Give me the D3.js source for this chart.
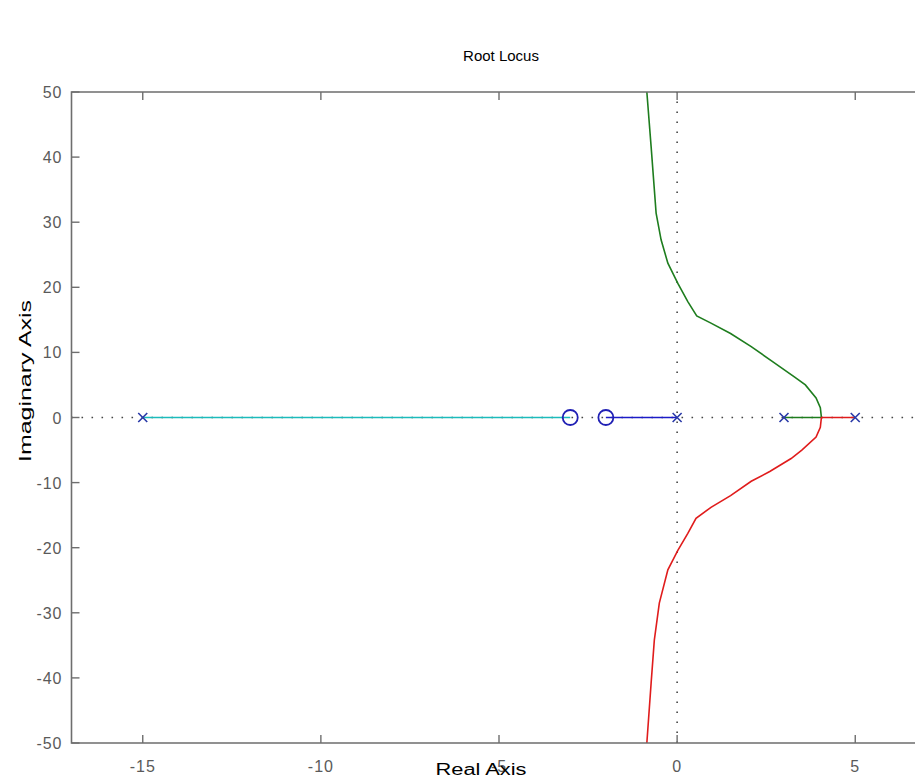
<!DOCTYPE html>
<html>
<head>
<meta charset="utf-8">
<script src="https://cdn.jsdelivr.net/npm/d3@7"></script>
<style>
  body { margin: 0; background: #fff; }
  #chart { width: 915px; height: 778px; overflow: hidden; }
  text { font-family: Arial, "Liberation Sans", sans-serif; }
</style>
</head>
<body>
<div id="chart"></div>
<script>
/*
*    root locus
*/

// ticks
const xTicks = [-15, -10, -5, 0, 5];
const yTicks = [-50, -40, -30, -20, -10, 0, 10, 20, 30, 40, 50];

// poles (x) y zeros (o)
const poleRe = [-15, 0, 3, 5];
const zeroRe = [-3, -2];

// branches
const cyanRe = [-15, -3];
const cyanIm = [0, 0];

const blueRe = [0, -2];
const blueIm = [0, 0];

const greenRe = [3, 4.05, 4.02, 3.9, 3.6, 3.3, 2.7, 2.08, 1.5, 0.95, 0.55, 0.3, 0.02, -0.26, -0.45, -0.59, -0.73, -0.85];
const greenIm = [0, 0, 1.5, 3, 5, 6.2, 8.5, 10.9, 12.9, 14.5, 15.6, 17.8, 20.6, 23.7, 27.3, 31.4, 41.6, 50];

const redRe = [5, 4.05, 4.02, 3.9, 3.5, 3.2, 2.6, 2.08, 1.5, 0.95, 0.53, 0.3, 0.02, -0.26, -0.5, -0.64, -0.73, -0.85];
const redIm = [0, 0, -1.5, -3, -5, -6.3, -8.3, -9.8, -12, -13.8, -15.5, -17.8, -20.4, -23.4, -28.5, -34.2, -40.8, -50];

rootLocus("#chart");

function rootLocus(container) {

	const width = 915;
	const height = 778;

	const margin = { left: 71.5, top: 92 };
	const innerWidth = 855;   // el borde derecho queda fuera de la imagen
	const innerHeight = 651;

	const svg = d3.select(container)
		.append("svg")
		.attr("width", width)
		.attr("height", height);

	const g = svg.append("g")
		.attr("transform", `translate(${margin.left}, ${margin.top})`);

	const x = d3.scaleLinear()
		.domain([-17, 7])
		.range([0, innerWidth]);

	const y = d3.scaleLinear()
		.domain([-50, 50])
		.range([innerHeight, 0]);

	const axisColor = "#6e6e6e";
	const labelColor = "#5a5a5a";

	// clip
	svg.append("defs").append("clipPath")
		.attr("id", "clip")
		.append("rect")
		.attr("width", innerWidth)
		.attr("height", innerHeight);

	const plot = g.append("g").attr("clip-path", "url(#clip)");

	// dotted axes at 0
	plot.append("line")
		.attr("x1", x(-17)).attr("x2", x(7))
		.attr("y1", y(0)).attr("y2", y(0))
		.attr("stroke", "#444")
		.attr("stroke-width", 1.6)
		.attr("stroke-dasharray", "1.6,8.4");

	plot.append("line")
		.attr("x1", x(0)).attr("x2", x(0))
		.attr("y1", y(-50)).attr("y2", y(50))
		.attr("stroke", "#444")
		.attr("stroke-width", 1.6)
		.attr("stroke-dasharray", "1.6,8.4");

	// branches
	const line = d3.line()
		.x(d => x(d[0]))
		.y(d => y(d[1]));

	const branches = [
		{ re: cyanRe, im: cyanIm, color: "#1cbcbc" },
		{ re: blueRe, im: blueIm, color: "#1c1cc8" },
		{ re: greenRe, im: greenIm, color: "#1e7d1e" },
		{ re: redRe, im: redIm, color: "#e01c1c" }
	];

	plot.selectAll("path.branch")
		.data(branches)
		.enter()
		.append("path")
		.attr("class", "branch")
		.attr("fill", "none")
		.attr("stroke", d => d.color)
		.attr("stroke-width", 1.6)
		.attr("d", d => line(d.re.map((r, i) => [r, d.im[i]])));

	// zeros
	plot.selectAll("circle.zero")
		.data(zeroRe)
		.enter()
		.append("circle")
		.attr("class", "zero")
		.attr("cx", d => x(d))
		.attr("cy", y(0))
		.attr("r", 7.5)
		.attr("fill", "none")
		.attr("stroke", "#2020b4")
		.attr("stroke-width", 1.8);

	// poles
	const s = 4.5;
	plot.selectAll("path.pole")
		.data(poleRe)
		.enter()
		.append("path")
		.attr("class", "pole")
		.attr("d", d => `M${x(d) - s},${y(0) - s}L${x(d) + s},${y(0) + s}M${x(d) - s},${y(0) + s}L${x(d) + s},${y(0) - s}`)
		.attr("stroke", "#2a3aa8")
		.attr("stroke-width", 1.6);

	// box (sin lado derecho, queda fuera)
	g.append("path")
		.attr("d", `M${innerWidth},0H0V${innerHeight}H${innerWidth}`)
		.attr("fill", "none")
		.attr("stroke", axisColor)
		.attr("stroke-width", 1.6);

	// ticks (inward)
	const tickLen = 8;
	g.selectAll("line.xt")
		.data(xTicks)
		.enter()
		.append("line")
		.attr("class", "xt")
		.attr("x1", d => x(d)).attr("x2", d => x(d))
		.attr("y1", innerHeight).attr("y2", innerHeight - tickLen)
		.attr("stroke", axisColor).attr("stroke-width", 1.4);

	g.selectAll("line.xtt")
		.data(xTicks)
		.enter()
		.append("line")
		.attr("class", "xtt")
		.attr("x1", d => x(d)).attr("x2", d => x(d))
		.attr("y1", 0).attr("y2", tickLen)
		.attr("stroke", axisColor).attr("stroke-width", 1.4);

	g.selectAll("line.yt")
		.data(yTicks)
		.enter()
		.append("line")
		.attr("class", "yt")
		.attr("x1", 0).attr("x2", tickLen)
		.attr("y1", d => y(d)).attr("y2", d => y(d))
		.attr("stroke", axisColor).attr("stroke-width", 1.4);

	// tick labels
	g.selectAll("text.xl")
		.data(xTicks)
		.enter()
		.append("text")
		.attr("class", "xl")
		.attr("x", d => x(d))
		.attr("y", innerHeight + 29)
		.attr("text-anchor", "middle")
		.style("font-size", "16px")
		.style("letter-spacing", "1px")
		.style("fill", labelColor)
		.text(d => d);

	g.selectAll("text.yl")
		.data(yTicks)
		.enter()
		.append("text")
		.attr("class", "yl")
		.attr("x", -9)
		.attr("y", d => y(d) + 6)
		.attr("text-anchor", "end")
		.style("font-size", "16px")
		.style("letter-spacing", "1px")
		.style("fill", labelColor)
		.text(d => d);

	// title & labels
	svg.append("text")
		.attr("x", 501)
		.attr("y", 61)
		.attr("text-anchor", "middle")
		.style("font-size", "15px")
		.style("fill", "#000")
		.text("Root Locus");

	svg.append("text")
		.attr("x", 481)
		.attr("y", 775)
		.attr("text-anchor", "middle")
		.style("font-size", "16px")
		.style("fill", "#000")
		.attr("textLength", 91)
		.attr("lengthAdjust", "spacingAndGlyphs")
		.text("Real Axis");

	svg.append("text")
		.attr("transform", "rotate(-90)")
		.attr("x", -381)
		.attr("y", 31)
		.attr("text-anchor", "middle")
		.style("font-size", "16px")
		.style("fill", "#000")
		.attr("textLength", 162)
		.attr("lengthAdjust", "spacingAndGlyphs")
		.text("Imaginary Axis");
}
</script>
</body>
</html>
